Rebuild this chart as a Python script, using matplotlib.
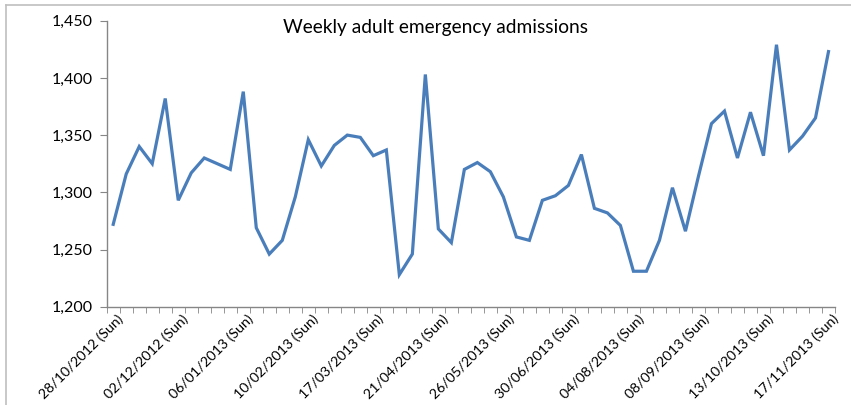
import numpy as np
import matplotlib.pyplot as plt
from matplotlib.lines import Line2D

# weekly values (week ending Sunday, 28/10/2012 .. 17/11/2013)
admissions = [
    1272, 1316, 1340, 1325, 1382, 1293, 1317, 1330, 1325, 1320,
    1388, 1269, 1246, 1258, 1296, 1346, 1323, 1341, 1350, 1348,
    1332, 1337, 1228, 1246, 1403, 1268, 1256, 1320, 1326, 1318,
    1296, 1261, 1258, 1293, 1297, 1306, 1333, 1286, 1282, 1271,
    1231, 1231, 1258, 1304, 1266, 1314, 1360, 1371, 1330, 1370,
    1332, 1429, 1337, 1349, 1365, 1423,
]
tick_labels = [
    "28/10/2012 (Sun)", "02/12/2012 (Sun)", "06/01/2013 (Sun)", "10/02/2013 (Sun)",
    "17/03/2013 (Sun)", "21/04/2013 (Sun)", "26/05/2013 (Sun)", "30/06/2013 (Sun)",
    "04/08/2013 (Sun)", "08/09/2013 (Sun)", "13/10/2013 (Sun)", "17/11/2013 (Sun)",
]
y_ticks = [1200, 1250, 1300, 1350, 1400, 1450]

plt.rcParams['font.family'] = ['Lato', 'DejaVu Sans']

fig = plt.figure(figsize=(8.51, 4.05), dpi=100)
ax = fig.add_axes([0.1254, 0.2427, 0.9812 - 0.1254, 0.9489 - 0.2427])

n = len(admissions)
x = np.arange(n)
ax.plot(x, admissions, color='#4A7EBB', linewidth=2.3, solid_joinstyle='miter')

ax.set_xlim(-0.5, n - 0.5)
ax.set_ylim(1200, 1450)

grey = '#868686'
for side in ['top', 'right']:
    ax.spines[side].set_visible(False)
for side in ['left', 'bottom']:
    ax.spines[side].set_color(grey)
    ax.spines[side].set_linewidth(1.0)

ax.set_yticks(y_ticks)
ax.set_yticklabels([f"{v:,}" for v in y_ticks], fontsize=11.5)
ax.tick_params(axis='y', length=5, color=grey, pad=5)

# minor ticks at category boundaries, labels every 5 weeks at centres
ax.set_xticks(np.arange(-0.5, n, 1.0), minor=True)
ax.set_xticks(np.arange(0, n, 5) + 0.3)
ax.set_xticklabels(tick_labels, rotation=45, ha='right', rotation_mode='anchor', fontsize=10.2)
ax.tick_params(axis='x', which='minor', length=4, color=grey)
ax.tick_params(axis='x', which='major', length=0, pad=4)

fig.text(0.512, 0.932, "Weekly adult emergency admissions", ha='center', va='center', fontsize=13.8)

# light border of the chart area (left and top only visible)
fig.add_artist(Line2D([6 / 851, 6 / 851], [0, 1 - 5 / 405], color='#BFBFBF', lw=1.2))
fig.add_artist(Line2D([6 / 851, 1], [1 - 5 / 405, 1 - 5 / 405], color='#BFBFBF', lw=1.2))

fig.savefig('out.png', dpi=100)
